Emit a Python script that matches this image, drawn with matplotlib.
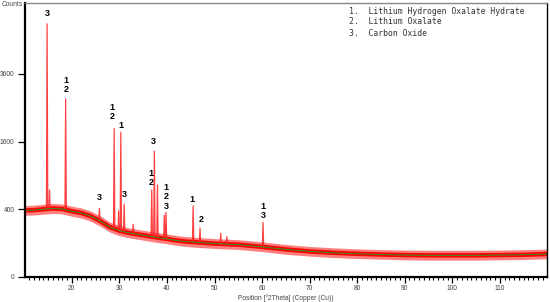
import numpy as np
import matplotlib
matplotlib.use('Agg')
import matplotlib.pyplot as plt

# 배경 (background) 곡선, 2Theta / counts
two_theta_bg = [10.15, 12, 14, 16, 18, 20, 22, 24, 26, 28, 30, 32, 34, 36, 38, 40, 42, 44, 46, 48,
                50, 55, 60, 65, 70, 75, 80, 85, 90, 95, 100, 105, 110, 115, 119.85]
bg_counts = [385, 388, 398, 408, 402, 375, 355, 320, 270, 215, 185, 168, 156, 145, 134, 125, 115, 108, 104, 100,
             96, 90, 78, 65, 56, 50, 46, 43, 41, 40, 40, 40, 41, 42, 45]
# noise envelope of the measured pattern
noise_upper = [445, 448, 460, 470, 463, 435, 414, 376, 322, 261, 228, 209, 195, 183, 170, 160, 149, 141, 136, 132,
               127, 120, 106, 91, 80, 73, 68, 64, 62, 61, 61, 61, 62, 64, 66]
noise_lower = [330, 333, 342, 351, 345, 320, 301, 269, 223, 174, 147, 132, 122, 112, 102, 95, 86, 80, 76, 73,
               70, 65, 55, 44, 37, 32, 29, 27, 25, 24, 24, 24, 25, 26, 28]

# 피크 (peaks): position, top, base
peak_pos = [14.8, 15.3, 18.7, 25.8, 28.9, 29.85, 30.3, 31.0, 32.9, 36.8, 37.35, 38.0, 39.45, 39.8,
            45.5, 46.95, 51.3, 52.6, 60.2]
peak_top = [5600, 660, 2770, 410, 1920, 380, 1830, 460, 240, 660, 1380, 736, 330, 362,
            440, 207, 164, 140, 258]
peak_base = [400, 402, 402, 275, 212, 190, 183, 178, 162, 146, 140, 136, 128, 126,
             106, 102, 95, 92, 78]

# 라벨 (phase labels)
label_text = ['3', '1\n2', '1\n2', '1', '3', '3', '3', '1\n2', '1\n2\n3', '1', '2', '1\n3']
label_x = [14.8, 18.8, 28.4, 30.3, 37.1, 25.7, 31.0, 36.6, 39.8, 45.3, 47.2, 60.2]
label_y = [6050, 3210, 2369, 1996, 1595, 546, 588, 849, 560, 519, 284, 375]

legend_lines = ['1.  Lithium Hydrogen Oxalate Hydrate', '2.  Lithium Oxalate', '3.  Carbon Oxide']

y_ticks = [0, 400, 1600, 3600]
x_ticks = [20, 30, 40, 50, 60, 70, 80, 90, 100, 110]

fig = plt.figure(figsize=(5.5, 3.02), dpi=100)
ax = fig.add_axes([25 / 550, 1 - 276.7 / 302, 521.7 / 550, 273.4 / 302])
ax.set_yscale('function', functions=(lambda v: np.sqrt(np.clip(v, 0, None)), np.square))

ax.fill_between(two_theta_bg, noise_lower, noise_upper, color='#ff0000', alpha=0.5, lw=0)
ax.plot(two_theta_bg, bg_counts, color='#ff0000', lw=3.2)
for x, top, base in zip(peak_pos, peak_top, peak_base):
    ax.plot([x - 0.14, x, x + 0.14], [base, top, base], color='#ff2020', lw=0.9, alpha=0.85)
ax.plot(two_theta_bg, bg_counts, color='#2a9a2a', lw=0.7)

for t, x, y in zip(label_text, label_x, label_y):
    ax.text(x, y, t, ha='center', va='center', fontsize=6.5, fontweight='bold',
            family='Liberation Sans', linespacing=1.05)

for i, line in enumerate(legend_lines):
    fig.text(349 / 550, 1 - (11 + 11 * i) / 302, line, ha='left', va='center',
             fontsize=5.9, family='DejaVu Sans Mono', color='#333333')

ax.set_xlim(10.15, 119.85)
ax.set_ylim(0, 6545)
ax.set_yticks(y_ticks)
ax.set_yticklabels([str(v) for v in y_ticks])
ax.set_xticks(x_ticks)
ax.set_xticks(np.arange(11, 120, 1), minor=True)
ax.yaxis.set_minor_locator(matplotlib.ticker.NullLocator())
ax.tick_params(axis='x', which='major', length=4, width=0.9, direction='out', pad=2,
               labelsize=4.8, labelcolor='#444444')
ax.tick_params(axis='x', which='minor', length=2.5, width=0.8, direction='out')
ax.tick_params(axis='y', which='major', length=5, width=0.9, direction='out', pad=2.5,
               labelsize=4.8, labelcolor='#444444')
for lab in ax.get_xticklabels() + ax.get_yticklabels():
    lab.set_family('Liberation Sans')

ax.spines['left'].set_linewidth(1.6)
ax.spines['bottom'].set_linewidth(1.6)
ax.spines['right'].set_linewidth(1.0)
ax.spines['top'].set_linewidth(1.0)
ax.spines['top'].set_color('#888888')

fig.text(2 / 550, 1 - 5 / 302, 'Counts', ha='left', va='center', fontsize=4.8,
         family='Liberation Sans', color='#444444')
ax.set_xlabel('Position [°2Theta] (Copper (Cu))', fontsize=4.8, family='Liberation Sans',
              color='#444444', labelpad=2)

fig.savefig('out.png', dpi=100)
